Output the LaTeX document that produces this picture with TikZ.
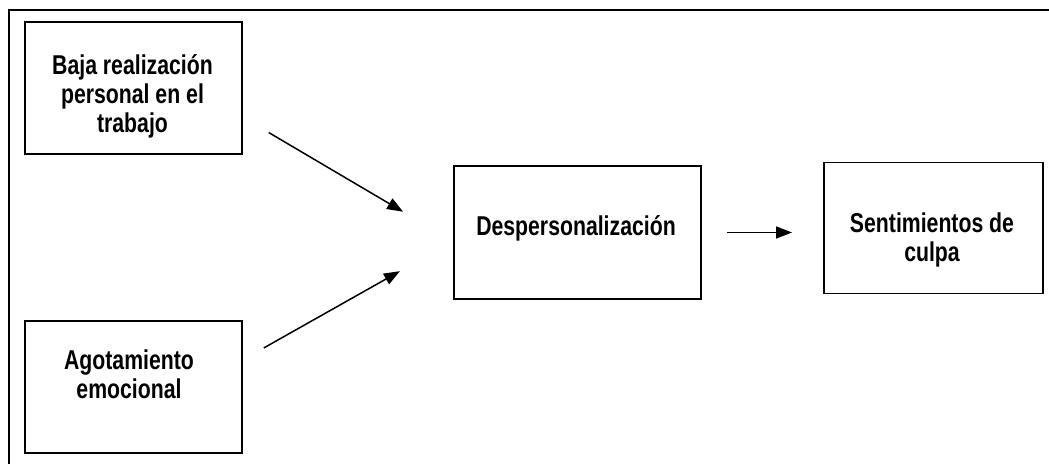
\documentclass[tikz,border=0pt]{standalone}
\usepackage{fontspec}
\setmainfont{Liberation Sans}[FakeStretch=0.78]
\usetikzlibrary{arrows.meta}
\tikzset{
  caja/.style={draw, line width=1.1pt, minimum width=4.34cm, minimum height=2.64cm, inner sep=0pt},
  texto/.style={align=center, inner sep=0pt, font=\bfseries\fontsize{15.5}{16.5}\selectfont},
  flecha/.style={line width=0.85pt, -{Triangle[length=0.32cm,width=0.24cm]}}
}
\begin{document}
\begin{tikzpicture}[x=0.02cm, y=-0.02cm]
    \useasboundingbox (0,0) rectangle (1049,464);
    \draw[line width=1.1pt] (1049,10) -- (9,10) -- (9,464);

    \node[caja] (baja) at (133.5,88) {}; \node[texto] (bajat) at (132.5,96) {Baja realización\\personal en el\\trabajo};

    \node[caja] (agot) at (133.5,387) {}; \node[texto] (agott) at (129,374) {Agotamiento\\emocional};

    \node[caja, minimum width=4.94cm, minimum height=2.66cm] (desp) at (577.5,232.5) {}; \node[texto] (despt) at (576,228) {Despersonalización};

    \node[caja, minimum width=4.38cm, minimum height=2.62cm] (sent) at (933.5,228) {}; \node[texto] (sentt) at (932,240) {Sentimientos de\\culpa};

    \draw[flecha, shorten <=0.6cm, shorten >=1.16cm] (baja.-15) -- (desp.-176.5);
    \draw[flecha, shorten <=0.48cm, shorten >=1.22cm] (agot.14) -- (desp.-176.5);
    \draw[flecha, shorten <=0.5cm, shorten >=0.62cm] (desp.east) -- (desp.east -| sent.west);
\end{tikzpicture}
\end{document}
